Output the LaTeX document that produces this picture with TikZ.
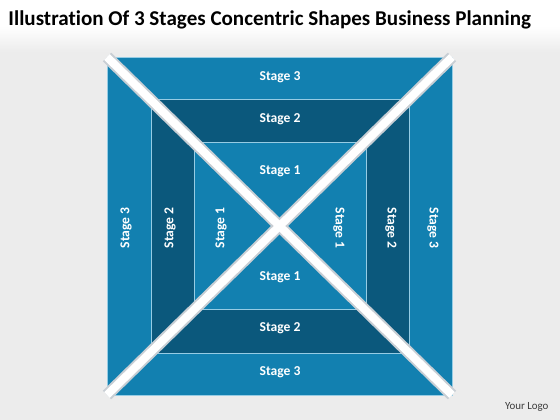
\documentclass[tikz,border=0pt]{standalone}
\usepackage{fontspec}
\setmainfont{Carlito}[Ligatures=NoCommon]
\definecolor{stageblue}{RGB}{18,128,176}
\definecolor{stagedark}{RGB}{11,88,124}
\definecolor{bandline}{RGB}{150,204,228}
\definecolor{bggray}{RGB}{236,236,236}
\definecolor{diagedge}{RGB}{200,206,212}
\definecolor{logogray}{RGB}{60,60,60}
\tikzset{every picture/.style={line width=0.75pt}}
\tikzset{
  stage label/.style={text=white, inner sep=0.75pt, font=\bfseries\fontsize{10.2}{12}\selectfont},
  stage box/.style={draw=bandline, line width=0.6pt},
  diag edge/.style={draw=diagedge, line width=9pt},
  diag core/.style={draw=white, line width=6pt},
}

\begin{document}
\begin{tikzpicture}[x=0.75pt,y=0.75pt,yscale=-1,xscale=1]
\useasboundingbox (0,0) rectangle (560,420);

%Background
\fill [white] (0,0) rectangle (560,420);
\shade [top color=white, bottom color=bggray] (0,26) rectangle (560,52);
\fill [bggray] (0,52) rectangle (560,420);

%Shape: Rectangle stage 3
\filldraw [stage box, fill=stageblue] (107,57) rectangle (452,395);
%Shape: Rectangle stage 2
\filldraw [stage box, fill=stagedark] (151,99) rectangle (409,353);
%Shape: Rectangle stage 1
\filldraw [stage box, fill=stageblue] (194,142) rectangle (366,309);

%Diagonals
\coordinate (tl) at (107,57);
\coordinate (tr) at (452,57);
\coordinate (bl) at (107,395);
\coordinate (br) at (452,395);
\draw [diag edge] (tl) -- (br);
\draw [diag edge] (tr) -- (bl);
\draw [diag core] (tl) -- (br);
\draw [diag core] (tr) -- (bl);

% Text Node
\draw (8,26) node (title) [anchor=base west, inner sep=0pt, font=\bfseries\fontsize{15.8}{19}\selectfont] {Illustration Of 3 Stages Concentric Shapes Business Planning};

% Text Node
\draw (280,77) node (s3top) [stage label] {Stage 3};
% Text Node
\draw (280,119) node (s2top) [stage label] {Stage 2};
% Text Node
\draw (280,171) node (s1top) [stage label] {Stage 1};
% Text Node
\draw (280,277) node (s1bot) [stage label] {Stage 1};
% Text Node
\draw (280,328) node (s2bot) [stage label] {Stage 2};
% Text Node
\draw (280,372) node (s3bot) [stage label] {Stage 3};
% Text Node
\draw (126,228) node (s3left) [stage label, rotate=90] {Stage 3};
% Text Node
\draw (170,228) node (s2left) [stage label, rotate=90] {Stage 2};
% Text Node
\draw (221,228) node (s1left) [stage label, rotate=90] {Stage 1};
% Text Node
\draw (339,228) node (s1right) [stage label, rotate=-90] {Stage 1};
% Text Node
\draw (391,228) node (s2right) [stage label, rotate=-90] {Stage 2};
% Text Node
\draw (433,228) node (s3right) [stage label, rotate=-90] {Stage 3};

% Text Node
\draw (549,409) node (logo) [anchor=base east, inner sep=0pt, text=logogray, font=\fontsize{8.2}{9}\selectfont] {Your Logo};
\end{tikzpicture}
\end{document}
